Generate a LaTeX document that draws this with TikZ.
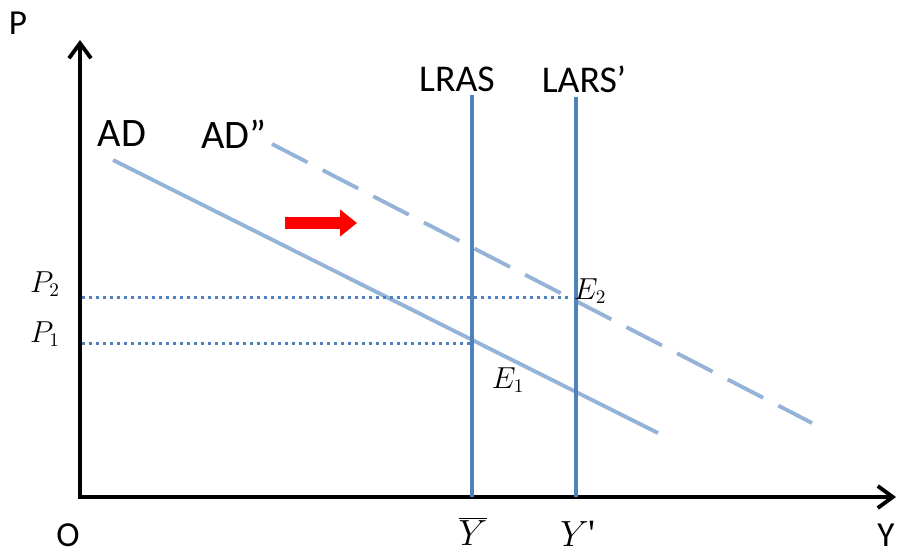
\documentclass[tikz,border=0pt]{standalone}
\usepackage{fontspec}
\setmainfont{Carlito}
\newfontfamily\primefont{Liberation Serif}
\usetikzlibrary{arrows.meta}
\definecolor{adblue}{RGB}{149,179,215}
\definecolor{asblue}{RGB}{79,129,189}

\begin{document}
\begin{tikzpicture}[
  x=0.02cm, y=-0.02cm,
  axis/.style={line width=2.2pt, -{Straight Barb[length=0.3cm,width=0.44cm,line width=2.2pt]}},
  adcurve/.style={draw=adblue, line width=2.2pt},
  adshift/.style={adcurve, dash pattern=on 0.8cm off 0.34cm},
  lrascurve/.style={draw=asblue, line width=2.8pt},
  guide/.style={draw=asblue, line width=0.06cm, dash pattern=on 0.06cm off 0.08cm},
  bigtext/.style={font=\fontsize{20}{22}\selectfont, inner sep=0pt},
  curvetext/.style={font=\fontsize{23}{26}\selectfont, inner sep=0pt},
  supplytext/.style={font=\fontsize{21.5}{24}\selectfont, inner sep=0pt},
  mathtext/.style={font=\fontsize{16}{18}\selectfont, inner sep=0pt},
  ytext/.style={font=\fontsize{22}{24}\selectfont, inner sep=0pt}
]
\useasboundingbox (0,0) rectangle (901,554);

% axes
\coordinate (o) at (80,497);
\coordinate (ptop) at (80,40);
\coordinate (yend) at (896,497);
\draw[axis] (o) -- (ptop);
\draw[axis] ([xshift=-1pt]o) -- (yend);

% demand curves
\coordinate (ad1) at (113,160);
\coordinate (ad2) at (658,433);
\coordinate (add1) at (272,144);
\coordinate (add2) at (812,423);
\draw[adcurve] (ad1) -- (ad2);
\draw[adshift] (add1) -- (add2);

% long run supply
\coordinate (lr1) at (472,95);
\coordinate (lr0) at (472,497);
\coordinate (la1) at (576,97);
\coordinate (la0) at (576,497);
\draw[lrascurve] (lr1) -- (lr0);
\draw[lrascurve] (la1) -- (la0);

% price levels
\coordinate (p1) at (82,343);
\coordinate (p2) at (82,297);
\draw[guide] (p1) -- (p1 -| lr0);
\draw[guide] (p2) -- ([xshift=-4]p2 -| la0);

% shift arrow
\coordinate (sh1) at (285,223);
\coordinate (sh2) at (357,223);
\draw[red, line width=0.24cm, -{Triangle[length=0.34cm,width=0.52cm]}] (sh1) -- (sh2);

% labels
\node[bigtext] (plab) at (18,23) {P};
\node[bigtext] (olab) at (68,535) {O};
\node[bigtext] (ylab) at (886,535) {Y};
\node[curvetext] (adlab) at (122,134) {AD};
\node[curvetext] (addlab) at (234,134) {AD”};
\node[supplytext] (lraslab) at (457,79) {LRAS};
\node[supplytext] (larslab) at (584,79) {LARS’};
\node[mathtext] (p2lab) at (45,284) {$P_2$};
\node[mathtext] (p1lab) at (45,334) {$P_1$};
\node[mathtext] (e2lab) at (590,291) {$E_2$};
\node[mathtext] (e1lab) at (508,380) {$E_1$};
\node[ytext] (ybarlab) at (473,531) {$\overline{Y}$};
\node[ytext] (yplab) at (578,534) {$Y${\primefont\textquotesingle}};
\end{tikzpicture}
\end{document}
